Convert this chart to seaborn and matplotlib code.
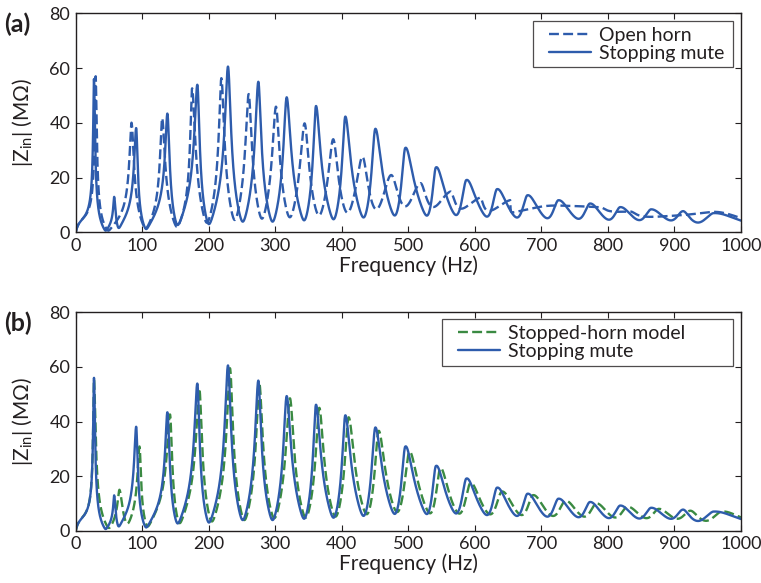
import numpy as np
import pandas as pd
import matplotlib
matplotlib.use("Agg")
import matplotlib.pyplot as plt
from matplotlib.legend_handler import HandlerLine2D
from matplotlib.lines import Line2D
import seaborn as sns

# ---------------- data ----------------
# Each impedance curve: resonance peaks (Hz, MOhm) and the troughs between them.
open_peak_f = [30, 84, 130, 175, 219, 260, 301, 344, 387, 431, 474, 518, 563,
               608, 653, 698, 743, 788, 833, 878, 923, 968]
open_peak_z = [57, 40, 41.7, 52.6, 56.3, 50.5, 45.9, 39.8, 34, 27.6, 20.9, 17.9,
               14.8, 12.4, 11, 9.9, 9.2, 8.5, 8, 7.4, 6.9, 6.3]
open_trough_f = [49, 105, 152, 197, 239, 280, 322, 366, 409, 453, 497, 541,
                 586, 631, 676, 721, 766, 811, 856, 900, 946]
open_trough_z = [0.6, 1.5, 2.0, 3.5, 4.5, 5.0, 5.5, 6.2, 7.2, 8.5, 9.6, 9.5,
                 8.8, 8.3, 7.9, 7.5, 7.1, 6.7, 6.3, 5.9, 5.5]
open_end_z = 5.2

mute_peak_f = [27.5, 58, 91, 138, 183, 229, 274.5, 317, 361, 405, 450, 495,
               541, 586.6, 632.7, 678.5, 725, 772.5, 818, 864.5, 912, 958]
mute_peak_z = [56, 12.8, 38, 43.2, 53.8, 60.5, 55, 49.3, 46.1, 42.2, 37.7,
               30.7, 23.6, 19, 15.7, 13.5, 11.7, 10.5, 9.2, 8.4, 7.7, 7]
mute_trough_f = [45, 64, 105.7, 152.8, 200, 251, 296, 343.6, 388, 433.4, 481,
                 530, 575, 621.6, 667, 713, 760, 806, 852, 900, 945]
mute_trough_z = [0.6, 1.7, 1.2, 2.7, 3.0, 3.9, 3.9, 4.4, 4.8, 5.5, 6.4, 6.6,
                 7.0, 6.4, 6.0, 5.7, 5.4, 5.1, 4.9, 4.8, 4.6]
mute_end_z = 4.6

model_peak_f = [27.5, 66, 96, 142, 186, 232, 276, 322, 366, 410, 455, 501,
                547.5, 592.7, 640, 687, 735.5, 782, 829, 876, 923, 970]
model_peak_z = [55.5, 14.9, 30.8, 42.4, 52, 59.5, 54, 48.5, 45, 41.5, 36.5,
                28.8, 22.8, 17.4, 14.3, 13, 11, 10, 8.8, 8, 7.3, 7]
model_trough_f = [50, 76.6, 108, 155.8, 204.4, 253.5, 298.6, 346, 391, 438.3,
                  485, 535, 580, 627, 674, 722, 769, 816, 863, 910, 957]
model_trough_z = [1.0, 2.7, 1.6, 2.8, 3.4, 3.9, 4.6, 4.8, 5.2, 6.1, 7.1, 6.8,
                  6.9, 6.6, 6.2, 5.9, 5.6, 5.3, 5.0, 4.8, 4.6]
model_end_z = 4.8

low_f, low_z = 10, 3.5          # point on the rising flank of the first peak
f_max = 1000
x_ticks = [0, 100, 200, 300, 400, 500, 600, 700, 800, 900, 1000]
y_ticks = [0, 20, 40, 60, 80]

BLUE = "#2E5CAC"
GREEN = "#3A8A42"
INK = "#231f20"


def resonance_curve(pf, pz, tf, tz, end_z, f, reach=120.0):
    """|Z| as a sum of complex resonances fitted to the read peaks and troughs."""
    pf = np.asarray(pf, float)
    pz = np.asarray(pz, float)
    tf = np.asarray(tf, float)
    tz = np.asarray(tz, float)
    n = len(pf)
    idx = np.arange(n - 1)
    d1 = tf - pf[:-1]
    d2 = pf[1:] - tf
    amp = pz.copy()
    wl = np.empty(n)
    wr = np.empty(n)
    wl[0] = (pf[0] - low_f) / np.sqrt((pz[0] / low_z) ** 2 - 1)
    wr[-1] = (f_max - pf[-1]) / np.sqrt((pz[-1] / end_z) ** 2 - 1)
    wr[:-1] = 0.2 * d1
    wl[1:] = 0.2 * d2

    def comps(x):
        d = np.asarray(x, float)[:, None] - pf[None, :]
        w = np.where(d < 0, wl[None, :], wr[None, :])
        return amp / (1 + 1j * d / w) * np.exp(-(d / reach) ** 2)

    for _ in range(80):
        c = comps(tf)
        c1 = c[idx, idx]
        c2 = c[idx, idx + 1]
        other = c.sum(axis=1) - c1 - c2
        a1 = amp[:-1] * np.exp(-(d1 / reach) ** 2)
        a2 = amp[1:] * np.exp(-(d2 / reach) ** 2)
        real_need = np.maximum(tz - other.real, 0.1 * tz)
        lo = real_need * 1e-4
        hi = real_need * (1 - 1e-4)
        for _ in range(40):
            mid = (lo + hi) / 2
            r2 = real_need - mid
            g = (np.sqrt(mid * np.maximum(a1 - mid, 1e-9))
                 - np.sqrt(r2 * np.maximum(a2 - r2, 1e-9)) - other.imag)
            lo = np.where(g < 0, mid, lo)
            hi = np.where(g < 0, hi, mid)
        r1 = (lo + hi) / 2
        r2 = real_need - r1
        x1 = np.sqrt(np.maximum(a1 / r1 - 1, 1e-4))
        x2 = np.sqrt(np.maximum(a2 / r2 - 1, 1e-4))
        wr[:-1] = 0.5 * wr[:-1] + 0.5 * d1 / x1
        wl[1:] = 0.5 * wl[1:] + 0.5 * d2 / x2
        amp *= (pz / np.abs(comps(pf).sum(axis=1))) ** 0.7

    return np.abs(comps(f).sum(axis=1)) * (1 - np.exp(-f / 3.0))


f = np.linspace(0, f_max, 6001)
df_open = pd.DataFrame({"Frequency": f, "Z": resonance_curve(
    open_peak_f, open_peak_z, open_trough_f, open_trough_z, open_end_z, f)})
df_mute = pd.DataFrame({"Frequency": f, "Z": resonance_curve(
    mute_peak_f, mute_peak_z, mute_trough_f, mute_trough_z, mute_end_z, f)})
df_model = pd.DataFrame({"Frequency": f, "Z": resonance_curve(
    model_peak_f, model_peak_z, model_trough_f, model_trough_z, model_end_z, f)})

# ---------------- style ----------------
sns.set_style("ticks")
plt.rcParams["font.family"] = ["Lato", "DejaVu Sans"]
plt.rcParams["mathtext.fontset"] = "custom"
plt.rcParams["mathtext.rm"] = "Lato"
plt.rcParams["text.color"] = INK
plt.rcParams["axes.labelcolor"] = INK
plt.rcParams["xtick.color"] = INK
plt.rcParams["ytick.color"] = INK

fig = plt.figure(figsize=(7.61, 5.83), dpi=100)
ax_a = fig.add_axes([0.0995, 0.6015, 0.8742, 0.3757])
ax_b = fig.add_axes([0.0995, 0.0897, 0.8742, 0.3746])

lw = 1.7
dash = (4.2, 1.8)
sns.lineplot(data=df_open, x="Frequency", y="Z", ax=ax_a, color=BLUE, lw=lw,
             label="Open horn", estimator=None, sort=False)
ax_a.lines[-1].set_dashes(dash)
sns.lineplot(data=df_mute, x="Frequency", y="Z", ax=ax_a, color=BLUE, lw=lw,
             label="Stopping mute", estimator=None, sort=False)

sns.lineplot(data=df_model, x="Frequency", y="Z", ax=ax_b, color=GREEN, lw=lw,
             label="Stopped-horn model", estimator=None, sort=False)
ax_b.lines[-1].set_dashes(dash)
sns.lineplot(data=df_mute, x="Frequency", y="Z", ax=ax_b, color=BLUE, lw=lw,
             label="Stopping mute", estimator=None, sort=False)

legend_boxes = {"(a)": (0.687, 0.966, 0.3006), "(b)": (0.550, 0.968, 0.438)}
for ax, tag in ((ax_a, "(a)"), (ax_b, "(b)")):
    ax.set_xlim(0, f_max)
    ax.set_ylim(0, 80)
    ax.set_xticks(x_ticks)
    ax.set_yticks(y_ticks)
    ax.tick_params(direction="in", length=4.5, width=0.8, top=True, right=True,
                   labelsize=13, pad=4)
    for s in ax.spines.values():
        s.set_linewidth(1.0)
        s.set_color(INK)
    ax.set_xlabel("Frequency (Hz)", fontsize=15, labelpad=1)
    ax.set_ylabel(r"|Z$_{\rm in}$| (M$\Omega$)", fontsize=15, labelpad=10)
    ax.text(-0.107, 0.95, tag, transform=ax.transAxes, fontsize=18,
            fontweight="bold", ha="left", va="center")
    x0, top, width = legend_boxes[tag]
    leg = ax.legend(loc="upper left", bbox_to_anchor=(x0, top - 0.5, width, 0.5),
                    mode="expand", borderaxespad=0, fontsize=14, frameon=True,
                    fancybox=False, handlelength=2.7, handletextpad=0.4,
                    labelspacing=0.05, borderpad=0.3,
                    handler_map={Line2D: HandlerLine2D(xpad=0.55)})
    leg.get_frame().set_edgecolor(INK)
    leg.get_frame().set_linewidth(0.9)

fig.savefig("out.png", dpi=100)
